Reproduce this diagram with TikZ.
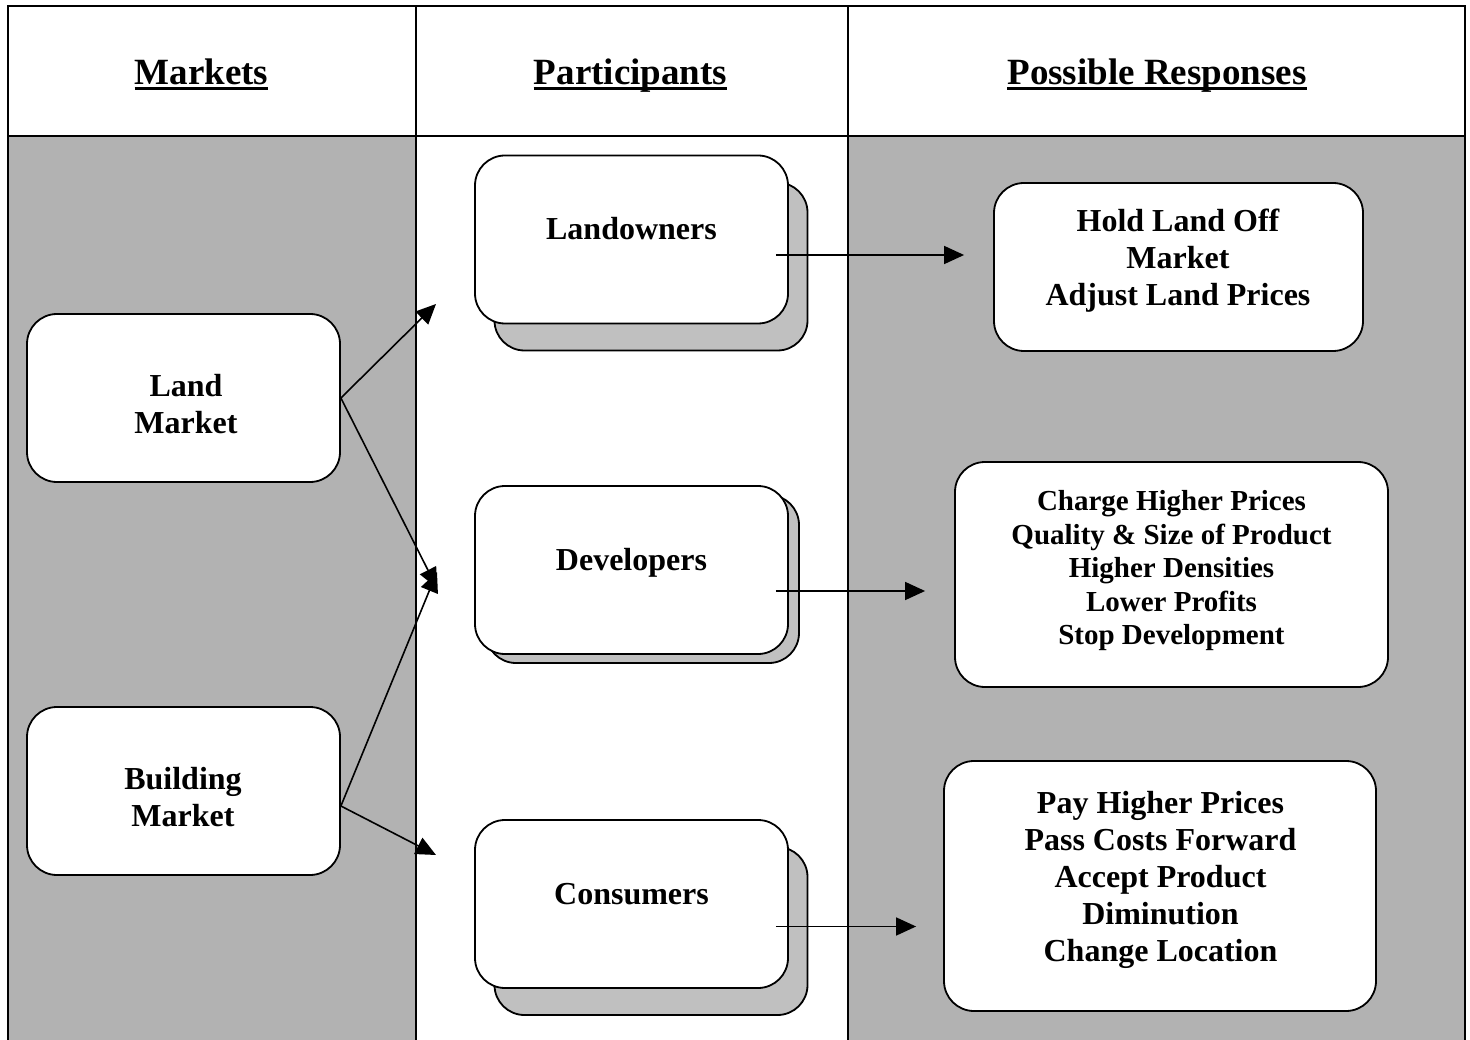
\documentclass[tikz,border=0pt]{standalone}
\usepackage{fontspec}
\setmainfont{Liberation Serif}
\usetikzlibrary{arrows.meta, shadows}

\definecolor{panelgray}{RGB}{178,178,178}
\definecolor{cardgray}{RGB}{192,192,192}

\begin{document}
\begin{tikzpicture}
	[
		x=1pt, y=-1pt,
		frame/.style={black, line width=2.8pt},
		heading/.style={inner sep=0pt, anchor=base, font=\fontsize{37}{44}\selectfont\bfseries},
		roundbox/.style={draw=black, fill=white, line width=1.8pt, rounded corners=30pt, inner sep=0pt},
		backcard/.style 2 args={copy shadow={shadow xshift=#1, shadow yshift=#2, fill=cardgray, draw=black, line width=1.8pt}},
		player/.style={roundbox, minimum width=313pt, minimum height=168pt, text height=0pt, text depth=0pt, font=\fontsize{32}{37}\selectfont\bfseries},
		boxtext/.style={inner sep=0pt, align=center, font=\fontsize{32}{37}\selectfont\bfseries},
		link/.style={line width=1.6pt, -{Triangle[length=20pt,width=18pt]}}
	]
	\useasboundingbox (0,0) rectangle (1470,1040);
	\clip (0,0) rectangle (1470,1040);

	% Shaded columns and table rules.
	\fill[panelgray] (8,136) rectangle (416,1050);
	\fill[panelgray] (848,136) rectangle (1465,1050);
	\draw[frame] (8,1050) -- (8,6) -- (1465,6) -- (1465,1050);
	\draw[frame] (8,136) -- (1465,136);
	\draw[frame] (416,6) -- (416,1050);
	\draw[frame] (848,6) -- (848,1050);

	% Column headings.
	\node[heading] (hmk) at (201.5,85) {Markets};
	\node[heading] (hpar) at (630.5,85) {Participants};
	\node[heading] (hres) at (1157,85) {Possible Responses};
	\foreach \h in {hmk,hpar,hres}
		\draw[line width=3pt] ([yshift=-4pt]\h.base west) -- ([yshift=-4pt]\h.base east);

	% Markets.
	\node[roundbox, minimum width=313pt, minimum height=168pt] (lm) at (183.5,398) {};
	\node[boxtext] (lmtext) at (186,404) {Land\\Market};
	\node[roundbox, minimum width=313pt, minimum height=168pt] (bm) at (183.5,791) {};
	\node[boxtext] (bmtext) at (183,797.5) {Building\\Market};

	% Participants, each with a card behind it.
	\node[player, backcard={19.5pt}{-27pt}] (lown) at (631.5,239.5) {Landowners};
	\node[player, backcard={11pt}{-9pt}] (devl) at (631.5,570) {Developers};
	\node[player, backcard={19.5pt}{-27pt}] (cons) at (631.5,904) {Consumers};

	% Possible responses.
	\node[roundbox, minimum width=369pt, minimum height=168pt] (hold) at (1178.5,267) {};
	\node[boxtext] (holdtext) at (1178,260.5) {Hold Land Off\\Market\\Adjust Land Prices};
	\node[roundbox, minimum width=433pt, minimum height=225pt] (chrg) at (1171.5,574.5) {};
	\node[boxtext, font=\fontsize{29}{33.5}\selectfont\bfseries] (chrgtext) at (1171.5,571)
		{Charge Higher Prices\\Quality \& Size of Product\\Higher Densities\\Lower Profits\\Stop Development};
	\node[roundbox, minimum width=432pt, minimum height=250pt] (pay) at (1160,886) {};
	\node[boxtext] (paytext) at (1160.5,879.5)
		{Pay Higher Prices\\Pass Costs Forward\\Accept Product\\Diminution\\Change Location};

	% Markets feed the participants.
	\coordinate (lowin) at (436,304);
	\coordinate (devin) at (437,588);
	\coordinate (devup) at (437,572);
	\coordinate (conin) at (436,855);
	\draw[link] (lm.east) -- (lowin);
	\draw[link] (lm.east) -- (devin);
	\draw[link] ([yshift=-15pt]bm.east) -- (devup);
	\draw[link] ([yshift=-15pt]bm.east) -- (conin);

	% Participants lead to their responses.
	\coordinate (lownout) at ([shift={(-13,15.5)}]lown.east);
	\coordinate (devlout) at ([shift={(-13,21)}]devl.east);
	\coordinate (consout) at ([shift={(-13,22.5)}]cons.east);
	\draw[link, shorten >=29pt] (lownout) -- (lownout -| hold.west);
	\draw[link, shorten >=29pt] (devlout) -- (devlout -| chrg.west);
	\draw[link, shorten >=27pt] (consout) -- (consout -| pay.west);
\end{tikzpicture}
\end{document}
